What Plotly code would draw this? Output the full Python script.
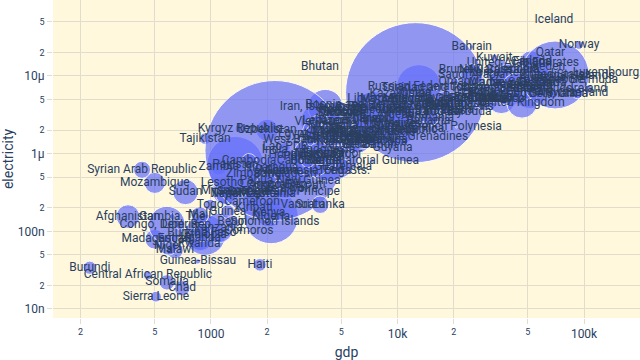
import plotly.graph_objects as go

countries = [
    "Burundi", "Sierra Leone", "Central African Republic", "Somalia", "Chad", "Guinea-Bissau",
    "Haiti", "Malawi", "Rwanda", "Madagascar", "Niger", "Uganda", "Ethiopia", "Tanzania",
    "Congo, Dem. Rep.", "Burkina Faso", "Liberia", "Gambia, The", "Afghanistan", "Mali",
    "Guinea", "Togo", "Sudan", "Mozambique", "Syrian Arab Republic", "Lesotho", "Myanmar",
    "Zambia", "Tajikistan", "Kyrgyz Republic", "Uzbekistan", "Nepal", "Kenya", "Nigeria",
    "Solomon Islands", "Cameroon", "Benin", "Zimbabwe", "Sao Tome and Principe",
    "Papua New Guinea", "Cote d'Ivoire", "Ghana", "Senegal", "Mauritania", "Honduras",
    "Nicaragua", "Lao PDR", "West Bank and Gaza", "Viet Nam", "Bosnia and Herzegovina",
    "Iran, Islamic Rep.", "Pakistan", "Bangladesh", "India", "Indonesia", "Philippines",
    "Cambodia", "Timor-Leste", "Kiribati", "Vanuatu", "Sri Lanka", "Comoros", "Eritrea",
    "Angola", "Congo, Rep.", "Djibouti", "Cabo Verde", "Bolivia", "Egypt, Arab Rep.",
    "Algeria", "Tunisia", "Morocco", "Jordan", "Lebanon", "Iraq", "Eswatini", "Namibia",
    "Botswana", "South Africa", "Gabon", "Equatorial Guinea", "Guatemala", "El Salvador",
    "Jamaica", "Belize", "Guyana", "Fiji", "Samoa", "Tonga", "Micronesia, Fed. Sts.",
    "St. Vincent and the Grenadines", "Dominica", "St. Lucia", "Grenada", "Ecuador",
    "Colombia", "Peru", "Paraguay", "Suriname", "Dominican Republic", "Cuba", "Mexico",
    "Brazil", "Argentina", "Costa Rica", "Panama", "Chile", "Uruguay", "Mongolia",
    "Ukraine", "Moldova", "Georgia", "Armenia", "Azerbaijan", "Kosovo", "Albania",
    "North Macedonia", "Belarus", "Serbia", "Montenegro", "Turkiye", "Thailand",
    "Malaysia", "Kazakhstan", "Libya", "Mauritius", "Maldives", "Marshall Islands",
    "Russian Federation", "China", "Bulgaria", "Romania", "Croatia", "Hungary", "Poland",
    "Latvia", "Lithuania", "Slovak Republic", "Greece", "Portugal", "Czechia", "Estonia",
    "Slovenia", "Spain", "Italy", "Malta", "Cyprus", "Trinidad and Tobago", "Barbados",
    "Antigua and Barbuda", "St. Kitts and Nevis", "Bahamas, The", "French Polynesia",
    "New Caledonia", "Seychelles", "Oman", "Saudi Arabia", "Bahrain", "Kuwait",
    "Brunei Darussalam", "United Arab Emirates", "Qatar", "Korea, Rep.", "Japan",
    "France", "Germany", "United Kingdom", "Belgium", "Austria", "Netherlands",
    "New Zealand", "Israel", "Canada", "Finland", "Sweden", "Australia", "Denmark",
    "Singapore", "Hong Kong SAR, China", "Macao SAR, China", "Puerto Rico", "Aruba",
    "United States", "Iceland", "Norway", "Switzerland", "Ireland", "Bermuda",
    "Cayman Islands", "Luxembourg", "Bhutan",
]

gdp = [
    224, 507, 459, 581, 700, 851,
    1830, 641, 863, 500, 590, 880, 930, 1100,
    580, 895, 680, 620, 359, 870,
    1230, 990, 730, 500, 427, 1150, 1200,
    1100, 930, 1430, 2000, 1200, 2050, 2100,
    2200, 1660, 1300, 1700, 2300,
    2650, 2500, 2400, 1600, 2000, 2800,
    2100, 2500, 3750, 3800, 7100,
    4100, 1350, 2500, 2200, 4300, 3500,
    1600, 1500, 1700, 3100, 3850, 1600, 640,
    2000, 2300, 3200, 3300, 3300, 3900,
    3700, 3800, 3800, 4100, 4100, 4700, 3900, 4800,
    6800, 7000, 8000, 7300, 5100, 4500,
    5200, 6200, 9400, 4900, 4000, 4600, 3600,
    8700, 8300, 9400, 9600, 5900,
    6100, 6600, 5900, 5000, 8500, 9500, 10000,
    7500, 10600, 12500, 14600, 16000, 17000, 4500,
    4800, 5200, 5000, 4700, 5400, 5300, 6400,
    6700, 7300, 9200, 9400, 9700, 7000,
    11100, 10400, 6400, 9000, 10000, 6000,
    13000, 12500, 12000, 15000, 17700, 18700, 18000,
    21000, 23000, 21000, 20000, 25000, 26000, 28000,
    29000, 30000, 36000, 33000, 31000, 16000, 17000,
    16000, 18000, 28000, 20700,
    35000, 13000, 20200, 25000, 25000, 33000,
    31000, 47000, 66000, 35000, 40000,
    44000, 51000, 46500, 52000, 53000, 58000,
    48000, 52000, 52000, 53000, 61000, 60000, 68000,
    73000, 50000, 44000, 33000, 30000,
    70000, 69000, 94000, 92000, 106000, 113000,
    86000, 131000, 3840,
]

electricity = [
    34e-9, 14.4e-9, 27e-9, 22e-9, 18.5e-9, 41e-9,
    37e-9, 57e-9, 68e-9, 79e-9, 65e-9, 82e-9, 90e-9, 110e-9,
    122e-9, 96e-9, 120e-9, 155e-9, 155e-9, 160e-9,
    179e-9, 220e-9, 320e-9, 420e-9, 620e-9, 420e-9, 330e-9,
    680e-9, 1560e-9, 2100e-9, 2000e-9, 300e-9, 170e-9, 155e-9,
    133e-9, 240e-9, 130e-9, 550e-9, 320e-9,
    450e-9, 350e-9, 600e-9, 320e-9, 300e-9, 950e-9,
    650e-9, 1200e-9, 1500e-9, 2560e-9, 4200e-9,
    4000e-9, 720e-9, 550e-9, 1100e-9, 1100e-9, 900e-9,
    800e-9, 300e-9, 200e-9, 220e-9, 220e-9, 100e-9, 80e-9,
    400e-9, 400e-9, 400e-9, 800e-9, 800e-9, 1800e-9,
    1700e-9, 1500e-9, 1000e-9, 2000e-9, 2600e-9, 1800e-9, 1000e-9, 1400e-9,
    1600e-9, 3900e-9, 1300e-9, 810e-9, 680e-9, 1000e-9,
    1300e-9, 1300e-9, 1180e-9, 1000e-9, 800e-9, 600e-9, 600e-9,
    1640e-9, 1500e-9, 1900e-9, 2000e-9, 1600e-9,
    1500e-9, 1600e-9, 2000e-9, 3300e-9, 2000e-9, 1400e-9, 2400e-9,
    2800e-9, 3100e-9, 2100e-9, 2600e-9, 4200e-9, 3400e-9, 2300e-9,
    3300e-9, 1800e-9, 3400e-9, 2300e-9, 2600e-9, 3300e-9, 2800e-9,
    3600e-9, 3900e-9, 4800e-9, 5000e-9, 3600e-9, 2800e-9,
    5100e-9, 5800e-9, 5000e-9, 2300e-9, 2400e-9, 1900e-9,
    7200e-9, 6100e-9, 5000e-9, 2900e-9, 4300e-9, 4400e-9, 4500e-9,
    3700e-9, 4300e-9, 5200e-9, 5000e-9, 5000e-9, 6300e-9, 6500e-9,
    7000e-9, 5200e-9, 5000e-9, 5000e-9, 5000e-9, 7000e-9, 3500e-9,
    3400e-9, 4000e-9, 5300e-9, 2200e-9,
    12000e-9, 4000e-9, 8400e-9, 10300e-9, 23600e-9, 17000e-9,
    12000e-9, 14500e-9, 19800e-9, 11000e-9, 7700e-9,
    7000e-9, 6300e-9, 4500e-9, 7500e-9, 7800e-9, 6700e-9,
    8200e-9, 7000e-9, 15000e-9, 15000e-9, 13000e-9, 9500e-9, 5800e-9,
    9000e-9, 5800e-9, 8000e-9, 5000e-9, 8000e-9,
    10300e-9, 53000e-9, 25000e-9, 6000e-9, 6800e-9, 8900e-9,
    10000e-9, 10900e-9, 13000e-9,
]

population = [
    12.6, 8.4, 5.5, 17.0, 17.0, 2.0,
    11.4, 20.0, 13.5, 28.0, 25.0, 46.0, 120.0, 63.0,
    96.0, 22.0, 5.2, 2.6, 40.0, 22.0,
    13.5, 8.6, 46.0, 32.0, 21.0, 2.3, 54.0,
    19.0, 9.8, 6.7, 35.0, 30.0, 53.0, 213.0,
    0.7, 27.0, 12.9, 16.0, 0.22,
    10.0, 27.0, 32.0, 17.0, 4.6, 10.0,
    6.8, 7.4, 4.9, 98.0, 3.3,
    88.0, 231.0, 169.0, 1408.0, 274.0, 111.0,
    16.6, 1.3, 0.13, 0.31, 22.0, 0.82, 3.6,
    34.0, 5.8, 1.1, 0.59, 12.0, 104.0,
    44.0, 12.3, 37.0, 11.1, 5.6, 41.0, 1.2, 2.5,
    2.6, 60.0, 2.3, 1.6, 17.0, 6.3,
    2.8, 0.4, 0.8, 0.9, 0.22, 0.1, 0.11,
    0.1, 0.07, 0.18, 0.12, 17.8,
    51.0, 33.0, 6.7, 0.6, 11.0, 11.3, 127.0,
    214.0, 45.0, 5.1, 4.4, 19.0, 3.4, 3.3,
    43.0, 2.6, 3.7, 2.8, 10.1, 1.8, 2.8,
    2.1, 9.3, 6.8, 0.62, 85.0, 70.0,
    33.0, 19.0, 6.7, 1.3, 0.52, 0.04,
    144.0, 1412.0, 6.9, 19.1, 3.9, 9.7, 38.0,
    1.9, 2.8, 5.4, 10.6, 10.3, 10.5, 1.3,
    2.1, 47.0, 59.0, 0.52, 1.2, 1.5, 0.28,
    0.09, 0.05, 0.4, 0.28,
    0.27, 0.1, 4.5, 35.0, 1.5, 4.3,
    0.44, 9.4, 2.7, 52.0, 125.0,
    68.0, 83.0, 67.0, 11.6, 9.0, 17.5,
    5.1, 9.4, 38.0, 5.5, 10.4, 26.0, 5.9,
    5.5, 7.4, 0.68, 3.3, 0.11,
    332.0, 0.37, 5.4, 8.7, 5.0, 0.064,
    0.07, 0.64, 0.78,
]

size_max = 140
sizeref = 2.0 * max(population) / (size_max ** 2)

fig = go.Figure(
    go.Scatter(
        x=gdp,
        y=electricity,
        text=countries,
        mode="markers+text",
        textposition="middle center",
        marker=dict(
            size=population,
            sizemode="area",
            sizeref=sizeref,
            color="#636efa",
            opacity=0.7,
            line=dict(width=1, color="white"),
        ),
        textfont=dict(size=12, color="#2a3f5f"),
        hovertemplate="%{text}<extra></extra>",
        cliponaxis=True,
    )
)

grid = "#e2dccc"
fig.update_layout(
    width=640,
    height=360,
    margin=dict(l=53, r=0, t=0, b=42, autoexpand=False),
    paper_bgcolor="white",
    plot_bgcolor="#fff8dc",
    font=dict(family="Roboto", color="#2a3f5f", size=12),
    showlegend=False,
    xaxis=dict(
        type="log",
        range=[2.153, 5.30],
        title=dict(text="gdp", font=dict(size=14), standoff=8),
        automargin=False,
        gridcolor=grid,
        ticks="outside",
        ticklen=5,
        tickcolor=grid,
        showline=False,
        zeroline=False,
    ),
    yaxis=dict(
        type="log",
        range=[-8.116, -4.022],
        title=dict(text="electricity", font=dict(size=14), standoff=8),
        automargin=False,
        gridcolor=grid,
        ticks="outside",
        ticklen=5,
        tickcolor=grid,
        showline=False,
        zeroline=False,
    ),
)

fig.write_html(
    "out.html",
    config={"displayModeBar": False},
    post_script="document.body.style.margin='0';document.body.style.overflow='hidden';",
)
